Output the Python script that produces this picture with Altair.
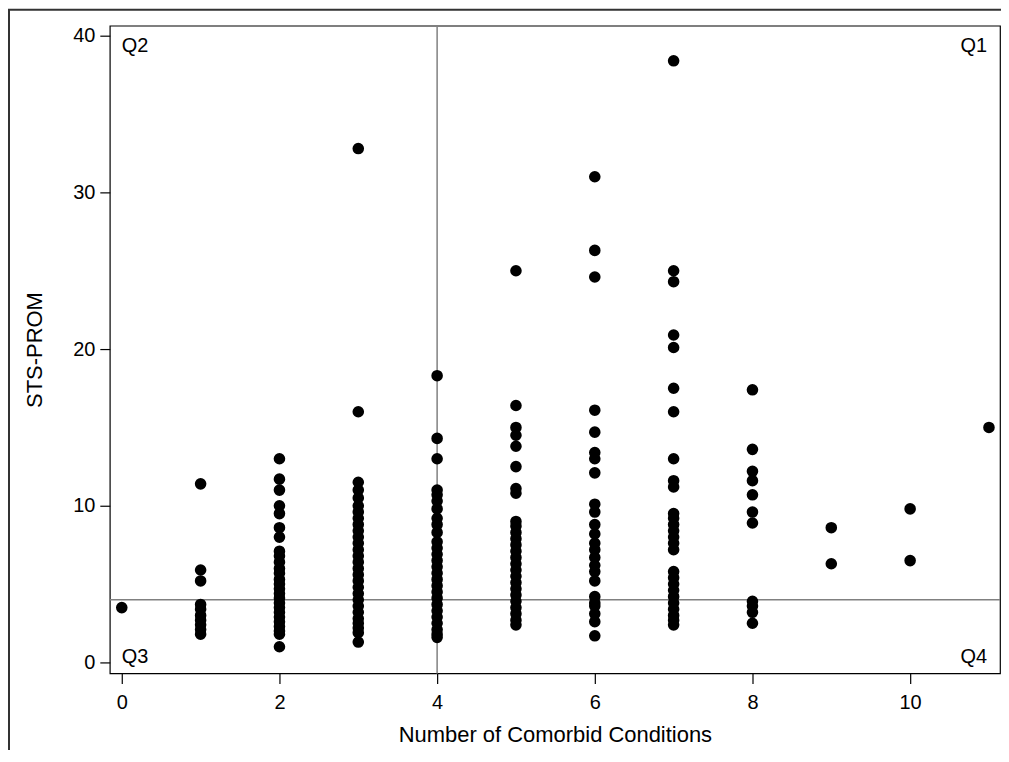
import altair as alt
import pandas as pd

# STS-PROM values by number of comorbid conditions
c0 = [3.5]
c1 = [11.4, 5.9, 5.2, 3.7, 3.4, 3.0, 2.7, 2.4, 2.1, 1.8]
c2 = [13.0, 11.7, 11.0, 10.0, 9.5, 8.6, 8.0, 7.1, 6.8, 6.4, 6.0, 5.7, 5.3, 5.0,
      4.7, 4.4, 4.1, 3.8, 3.5, 3.2, 2.9, 2.6, 2.3, 2.0, 1.8, 1.0]
c3 = [32.8, 16.0, 11.5, 11.0, 10.5, 10.0, 9.6, 9.2, 8.8, 8.4, 8.0, 7.6, 7.2, 6.8,
      6.4, 6.0, 5.6, 5.2, 4.8, 4.4, 4.0, 3.6, 3.2, 2.8, 2.5, 2.2, 1.9, 1.3]
c4 = [18.3, 14.3, 13.0, 11.0, 10.7, 10.3, 9.8, 9.2, 8.8, 8.3, 7.7, 7.3, 6.9, 6.5,
      6.1, 5.7, 5.3, 4.9, 4.5, 4.1, 3.7, 3.3, 2.9, 2.5, 2.1, 1.8, 1.6]
c5 = [25.0, 16.4, 15.0, 14.5, 13.8, 12.5, 11.1, 10.8, 9.0, 8.7, 8.3, 7.9, 7.5, 7.1,
      6.7, 6.3, 5.9, 5.5, 5.1, 4.7, 4.3, 3.9, 3.5, 3.1, 2.7, 2.4]
c6 = [31.0, 26.3, 24.6, 16.1, 14.7, 13.4, 13.0, 12.1, 10.1, 9.6, 8.8, 8.2, 7.6,
      7.2, 6.7, 6.2, 5.8, 5.2, 4.2, 3.8, 3.6, 3.1, 2.6, 1.7]
c7 = [38.4, 25.0, 24.3, 20.9, 20.1, 17.5, 16.0, 13.0, 11.6, 11.2, 9.5, 9.2, 8.8,
      8.4, 8.0, 7.6, 7.2, 5.8, 5.4, 5.0, 4.6, 4.2, 3.8, 3.4, 3.0, 2.7, 2.4]
c8 = [17.4, 13.6, 12.2, 11.6, 10.7, 9.6, 8.9, 3.9, 3.6, 3.2, 2.5]
c9 = [8.6, 6.3]
c10 = [9.8, 6.5]
c11 = [15.0]

columns = [c0, c1, c2, c3, c4, c5, c6, c7, c8, c9, c10, c11]
xs, ys = [], []
for k, col in enumerate(columns):
    for v in col:
        xs.append(k)
        ys.append(v)
df = pd.DataFrame({"n": xs, "prom": ys})

ref_x = [4]
ref_y = [4]
quad_labels = ["Q2", "Q1", "Q3", "Q4"]

FONT = "Liberation Sans"
W, H = 892, 649

xscale = alt.Scale(domain=[-0.152, 11.14], nice=False, zero=False)
yscale = alt.Scale(domain=[-0.70, 40.64], nice=False, zero=False)

points = alt.Chart(df).mark_circle(size=135, color="black", opacity=1).encode(
    x=alt.X("n:Q", scale=xscale,
            axis=alt.Axis(values=[0, 2, 4, 6, 8, 10], format="d", labelPadding=9,
                          labelFontSize=20, title="Number of Comorbid Conditions",
                          titlePadding=12)),
    y=alt.Y("prom:Q", scale=yscale,
            axis=alt.Axis(values=[0, 10, 20, 30, 40], format="d", labelPadding=5,
                          labelFontSize=20, title="STS-PROM", titlePadding=26)),
)

vline = alt.Chart(pd.DataFrame({"x": ref_x})).mark_rule(color="#808080", strokeWidth=1.5).encode(
    x=alt.X("x:Q", scale=xscale)
)
hline = alt.Chart(pd.DataFrame({"y": ref_y})).mark_rule(color="#808080", strokeWidth=1.5).encode(
    y=alt.Y("y:Q", scale=yscale)
)

lab_df = pd.DataFrame({"t": ["x"]})
def qlabel(txt, align, xpos, ypos):
    return alt.Chart(lab_df).mark_text(text=txt, align=align, baseline="middle",
                                       font=FONT, fontSize=20, color="black").encode(
        x=alt.value(xpos), y=alt.value(ypos))

q2 = qlabel(quad_labels[0], "left", 12, 20)
q1 = qlabel(quad_labels[1], "right", W - 13, 20)
q3 = qlabel(quad_labels[2], "left", 12, H - 16)
q4 = qlabel(quad_labels[3], "right", W - 13, H - 16)

outer = alt.Chart(lab_df).mark_rect(fill=None, stroke="#333333", strokeWidth=2).encode(
    x=alt.value(-101), x2=alt.value(W + 40), y=alt.value(-16), y2=alt.value(H + 200))

chart = alt.layer(outer, vline, hline, points, q2, q1, q3, q4).properties(
    width=W, height=H,
    autosize=alt.AutoSizeParams(type="none"),
    padding={"left": 102, "top": 17, "right": 1, "bottom": 76},
).configure_view(
    stroke="black", strokeWidth=1.2
).configure_axis(
    domain=False, grid=False, ticks=True, tickColor="black", tickSize=10, tickWidth=1.2,
    labelFont=FONT, labelColor="black",
    titleFont=FONT, titleFontSize=22, titleColor="black", titleFontWeight="normal",
)

chart.save("out.html", embed_options={"renderer": "svg", "actions": False})
